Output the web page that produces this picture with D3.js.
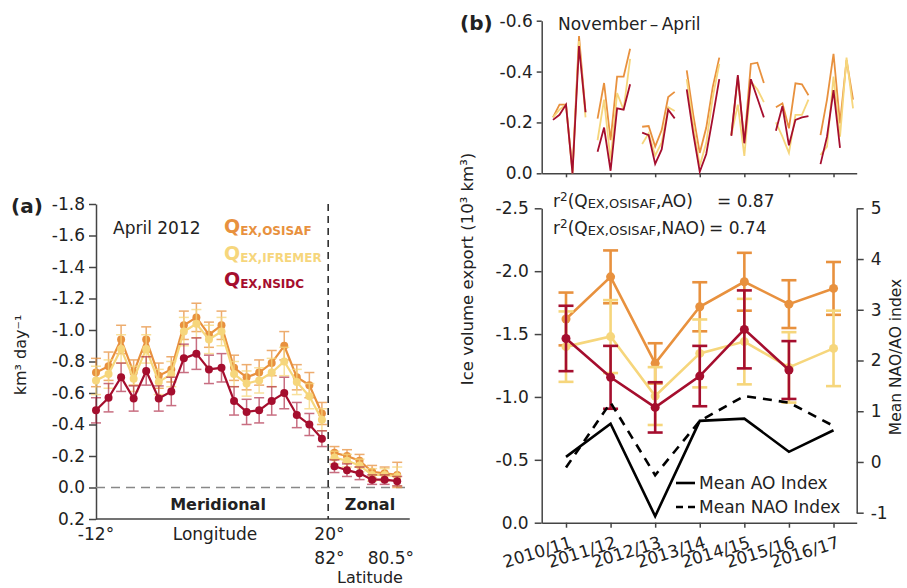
<!DOCTYPE html>
<html>
<head>
<meta charset="utf-8">
<script src="https://cdn.jsdelivr.net/npm/d3@7"></script>
<style>
  body { margin: 0; background: #fff; }
  svg text { font-family: "DejaVu Sans", sans-serif; fill: #222; }
</style>
</head>
<body>
<svg id="chart" width="907" height="588"></svg>
<script>
// ---------- panel (a): April 2012, along the flux gate ----------
// 19 meridional bins (-12° .. 20°) followed by 6 zonal bins (82° .. 80.5°)
var nMeridional = 19;
var osisafA   = [-0.73, -0.77, -0.94, -0.73, -0.94, -0.71, -0.75, -1.03, -1.08, -0.97, -1.03, -0.76, -0.70, -0.73, -0.79, -0.90, -0.70, -0.65, -0.47,
                 -0.22, -0.20, -0.17, -0.10, -0.09, -0.08];
var ifremerA  = [-0.68, -0.72, -0.88, -0.69, -0.88, -0.67, -0.72, -0.99, -1.04, -0.94, -0.99, -0.72, -0.66, -0.68, -0.73, -0.80, -0.67, -0.58, -0.43,
                 -0.19, -0.17, -0.14, -0.08, -0.08, -0.07];
var nsidcA    = [-0.49, -0.57, -0.70, -0.565, -0.74, -0.565, -0.61, -0.82, -0.85, -0.75, -0.76, -0.55, -0.48, -0.49, -0.55, -0.60, -0.46, -0.40, -0.31,
                 -0.135, -0.11, -0.09, -0.05, -0.05, -0.04];
var osisafErrA  = [0.09, 0.09, 0.09, 0.08, 0.08, 0.08, 0.08, 0.09, 0.09, 0.08, 0.09, 0.08, 0.08, 0.08, 0.08, 0.09, 0.08, 0.08, 0.07, 0.04, 0.04, 0.04, 0.04, 0.04, 0.08];
var ifremerErrA = [0.09, 0.09, 0.09, 0.08, 0.09, 0.08, 0.08, 0.09, 0.09, 0.09, 0.09, 0.08, 0.08, 0.08, 0.09, 0.09, 0.08, 0.08, 0.07, 0.04, 0.04, 0.04, 0.04, 0.04, 0.06];
var nsidcErrA   = [0.08, 0.09, 0.09, 0.08, 0.09, 0.08, 0.09, 0.09, 0.10, 0.09, 0.09, 0.09, 0.08, 0.08, 0.09, 0.10, 0.08, 0.07, 0.05, 0.04, 0.04, 0.04, 0.03, 0.03, 0.03];
var yTicksA = [-1.8, -1.6, -1.4, -1.2, -1.0, -0.8, -0.6, -0.4, -0.2, 0.0, 0.2];
var lonTickPos = [0, 18.6],  lonTickLabels = ["-12°", "20°"];
var latTickPos = [18.6, 23.5], latTickLabels = ["82°", "80.5°"];

// ---------- panel (b): November - April, 2010/11 .. 2016/17 ----------
var seasons = ["2010/11", "2011/12", "2012/13", "2013/14", "2014/15", "2015/16", "2016/17"];
var months  = ["Nov", "Dec", "Jan", "Feb", "Mar", "Apr"];
var osisafMonthly = [
  [-0.22, -0.27, -0.27, -0.01, -0.54, -0.24],
  [-0.215, -0.355, -0.13, -0.38, -0.38, -0.49],
  [-0.183, -0.186, -0.105, -0.17, -0.30, -0.32],
  [-0.405, -0.23, -0.08, -0.18, -0.34, -0.455],
  [-0.15, -0.38, -0.12, -0.43, -0.435, -0.355],
  [-0.26, -0.275, -0.177, -0.354, -0.35, -0.307],
  [-0.15, -0.29, -0.47, -0.196, -0.445, -0.29]];
var ifremerMonthly = [
  [-0.22, -0.25, -0.27, 0.0, -0.52, -0.22],
  [-0.13, -0.29, -0.05, -0.315, -0.25, -0.45],
  [-0.115, -0.157, -0.07, -0.12, -0.26, -0.245],
  [-0.37, -0.19, -0.03, -0.12, -0.30, -0.43],
  [-0.15, -0.27, -0.068, -0.36, -0.33, -0.28],
  [-0.20, -0.144, -0.08, -0.23, -0.23, -0.29],
  [-0.072, -0.105, -0.38, -0.144, -0.455, -0.255]];
var nsidcMonthly = [
  [-0.21, -0.23, -0.27, 0.0, -0.50, -0.24],
  [-0.085, -0.18, -0.01, -0.255, -0.25, -0.35],
  [-0.16, -0.15, -0.037, -0.094, -0.25, -0.216],
  [-0.33, -0.157, -0.006, -0.076, -0.22, -0.37],
  [-0.147, -0.386, -0.118, -0.37, -0.295, -0.22],
  [-0.167, -0.264, -0.11, -0.21, -0.22, -0.225],
  [-0.036, -0.144, -0.327, -0.10, null, null]];
var osisafSeason   = [-1.62, -1.955, -1.267, -1.717, -1.916, -1.738, -1.863];
var osisafErrS     = [0.21, 0.21, 0.16, 0.195, 0.23, 0.19, 0.21];
var ifremerSeason  = [-1.40, -1.48, -1.007, -1.346, -1.44, -1.235, -1.386];
var ifremerErrS    = [0.28, 0.29, 0.23, 0.27, 0.34, 0.28, 0.30];
var nsidcSeason    = [-1.465, -1.156, -0.917, -1.166, -1.537, -1.214, null];
var nsidcErrS      = [0.26, 0.25, 0.20, 0.24, 0.31, 0.23, null];
var aoIndex  = [0.10, 0.755, -1.07, 0.81, 0.855, 0.20, 0.625];
var naoIndex = [-0.11, 1.17, -0.26, 0.81, 1.30, 1.17, 0.71];
var yTicksMonthly = [-0.6, -0.4, -0.2, 0.0];
var yTicksSeason  = [-2.5, -2.0, -1.5, -1.0, -0.5, 0.0];
var yTicksIndex   = [-1, 0, 1, 2, 3, 4, 5];

var COL = { osisaf: "#e8913e", ifremer: "#f6d67c", nsidc: "#a50e2e", axis: "#444" };

var svg = d3.select("#chart");

function styleAxis(g, fontSize) {
    g.selectAll("path.domain").attr("stroke", COL.axis).attr("stroke-width", 1.5);
    g.selectAll(".tick line").attr("stroke", COL.axis).attr("stroke-width", 1.5);
    g.selectAll(".tick text").attr("font-size", fontSize).attr("fill", "#222")
        .attr("font-family", "DejaVu Sans, sans-serif");
}

function fmt1(d) { return d.toFixed(1); }

// ================= panel (a) =================
var xA = d3.scaleLinear().domain([0, 25]).range([96, 409.75]);
var yA = d3.scaleLinear().domain([-1.8, 0.2]).range([204, 519]);
var gA = svg.append("g");

gA.append("g").attr("transform", "translate(96,0)")
    .call(d3.axisLeft(yA).tickValues(yTicksA).tickFormat(fmt1).tickSize(7).tickSizeOuter(0).tickPadding(4))
    .call(function (g) { styleAxis(g, 17); });

gA.append("line").attr("x1", xA(0)).attr("x2", xA(25)).attr("y1", yA(0.2)).attr("y2", yA(0.2))
    .attr("stroke", COL.axis).attr("stroke-width", 1.5);

gA.append("line").attr("x1", xA(0)).attr("x2", xA(25)).attr("y1", yA(0)).attr("y2", yA(0))
    .attr("stroke", "#888").attr("stroke-width", 1.5).attr("stroke-dasharray", "9,6");

gA.append("line").attr("x1", xA(18.5)).attr("x2", xA(18.5)).attr("y1", yA(-1.8)).attr("y2", yA(0.2))
    .attr("stroke", "#222").attr("stroke-width", 1.5).attr("stroke-dasharray", "7,5");

function drawSeriesA(values, errs, color, errOpacity) {
    var pts = values.map(function (v, i) { return { i: i, v: v, e: errs[i] }; });
    var g = gA.append("g");
    var eb = g.append("g").attr("stroke", color).attr("stroke-width", 1.5).attr("opacity", errOpacity)
        .selectAll("g").data(pts).enter().append("g");
    eb.append("line").attr("x1", function (d) { return xA(d.i); }).attr("x2", function (d) { return xA(d.i); })
        .attr("y1", function (d) { return yA(d.v - d.e); }).attr("y2", function (d) { return yA(d.v + d.e); });
    eb.append("line").attr("x1", function (d) { return xA(d.i) - 5; }).attr("x2", function (d) { return xA(d.i) + 5; })
        .attr("y1", function (d) { return yA(d.v - d.e); }).attr("y2", function (d) { return yA(d.v - d.e); });
    eb.append("line").attr("x1", function (d) { return xA(d.i) - 5; }).attr("x2", function (d) { return xA(d.i) + 5; })
        .attr("y1", function (d) { return yA(d.v + d.e); }).attr("y2", function (d) { return yA(d.v + d.e); });

    var line = d3.line().x(function (d) { return xA(d.i); }).y(function (d) { return yA(d.v); });
    [pts.slice(0, nMeridional), pts.slice(nMeridional)].forEach(function (seg) {
        g.append("path").attr("d", line(seg)).attr("fill", "none").attr("stroke", color).attr("stroke-width", 2.2);
    });
    g.selectAll("circle").data(pts).enter().append("circle")
        .attr("cx", function (d) { return xA(d.i); }).attr("cy", function (d) { return yA(d.v); })
        .attr("r", 4).attr("fill", color);
}
drawSeriesA(osisafA, osisafErrA, COL.osisaf, 0.75);
drawSeriesA(ifremerA, ifremerErrA, COL.ifremer, 0.75);
drawSeriesA(nsidcA, nsidcErrA, COL.nsidc, 0.6);

gA.selectAll("text.lon").data(lonTickPos).enter().append("text")
    .attr("x", function (d) { return xA(d); }).attr("y", 540).attr("text-anchor", "middle")
    .attr("font-size", 17).text(function (d, i) { return lonTickLabels[i]; });
gA.selectAll("text.lat").data(latTickPos).enter().append("text")
    .attr("x", function (d) { return xA(d); }).attr("y", 564).attr("text-anchor", "middle")
    .attr("font-size", 17).text(function (d, i) { return latTickLabels[i]; });
gA.append("text").attr("x", 215).attr("y", 540).attr("text-anchor", "middle").attr("font-size", 17).text("Longitude");
gA.append("text").attr("x", 370).attr("y", 583).attr("text-anchor", "middle").attr("font-size", 16).text("Latitude");
gA.append("text").attr("x", 218).attr("y", 510).attr("text-anchor", "middle").attr("font-size", 16)
    .attr("font-weight", "bold").text("Meridional");
gA.append("text").attr("x", 370).attr("y", 510).attr("text-anchor", "middle").attr("font-size", 16)
    .attr("font-weight", "bold").text("Zonal");

gA.append("text").attr("x", 11).attr("y", 213).attr("font-size", 20).attr("font-weight", "bold").text("(a)");
gA.append("text").attr("x", 113).attr("y", 234).attr("font-size", 17).text("April 2012");
gA.append("text").attr("transform", "translate(26,355) rotate(-90)").attr("text-anchor", "middle")
    .attr("font-size", 16).text("km³ day⁻¹");

var legendA = [["OSISAF", COL.osisaf], ["IFREMER", COL.ifremer], ["NSIDC", COL.nsidc]];
legendA.forEach(function (d, i) {
    var t = gA.append("text").attr("x", 224).attr("y", 233 + i * 26.7).attr("font-weight", "bold")
        .style("fill", d[1]);
    t.append("tspan").attr("font-size", 19).text("Q");
    t.append("tspan").attr("font-size", 12).attr("dy", 2).text("EX," + d[0]);
});

// ================= panel (b) =================
var xB = d3.scaleLinear().domain([-0.545, 6.52]).range([541.7, 856.7]);
var monthStep = 0.146;
var yM = d3.scaleLinear().domain([-0.6, 0]).range([20.7, 173.3]);
var yS = d3.scaleLinear().domain([-2.5, 0]).range([208.3, 522.7]);
var yI = d3.scaleLinear().domain([5, -1]).range([208.3, 512.7]);
var gB = svg.append("g");
var seasonIdx = seasons.map(function (s, i) { return i; });

// top: monthly
gB.append("g").attr("transform", "translate(541.7,0)")
    .call(d3.axisLeft(yM).tickValues(yTicksMonthly).tickFormat(fmt1).tickSize(5).tickSizeOuter(0).tickPadding(4))
    .call(function (g) { styleAxis(g, 17); });
gB.append("g").attr("transform", "translate(0,173.3)")
    .call(d3.axisBottom(xB).tickValues(seasonIdx).tickFormat("").tickSize(4).tickSizeOuter(0))
    .call(function (g) { styleAxis(g, 17); });

function drawMonthly(data, color) {
    var line = d3.line().defined(function (d) { return d.v !== null; })
        .x(function (d) { return xB(d.s + (d.m - 2) * monthStep); }).y(function (d) { return yM(d.v); });
    data.forEach(function (row, s) {
        var pts = row.map(function (v, m) { return { s: s, m: m, v: v }; });
        gB.append("path").attr("d", line(pts)).attr("fill", "none").attr("stroke", color).attr("stroke-width", 1.8);
    });
}
drawMonthly(osisafMonthly, COL.osisaf);
drawMonthly(ifremerMonthly, COL.ifremer);
drawMonthly(nsidcMonthly, COL.nsidc);

gB.append("text").attr("x", 460).attr("y", 30).attr("font-size", 20).attr("font-weight", "bold").text("(b)");
gB.append("text").attr("x", 558).attr("y", 30).attr("font-size", 17).text("November\u2009\u2013\u2009April");

// bottom: seasonal
gB.append("g").attr("transform", "translate(541.7,0)")
    .call(d3.axisLeft(yS).tickValues(yTicksSeason).tickFormat(fmt1).tickSize(7).tickSizeOuter(0).tickPadding(6))
    .call(function (g) { styleAxis(g, 17); });
gB.append("g").attr("transform", "translate(856.7,0)")
    .call(d3.axisRight(yI).tickValues(yTicksIndex).tickFormat(function (d) { return String(d); })
        .tickSize(7).tickSizeOuter(0).tickPadding(7))
    .call(function (g) { styleAxis(g, 17); });
var xAxisB = gB.append("g").attr("transform", "translate(0,522.7)")
    .call(d3.axisBottom(xB).tickValues(seasonIdx).tickFormat(function (d) { return seasons[d]; })
        .tickSize(5).tickSizeOuter(0))
    .call(function (g) { styleAxis(g, 17); });
xAxisB.selectAll(".tick text").attr("text-anchor", "end").attr("dy", null)
    .attr("transform", "translate(4,17) rotate(-17)");

function drawSeason(vals, errs, color) {
    var pts = vals.map(function (v, i) { return { i: i, v: v, e: errs[i] }; })
        .filter(function (d) { return d.v !== null; });
    var g = gB.append("g");
    var eb = g.append("g").attr("stroke", color).attr("stroke-width", 2.6)
        .selectAll("g").data(pts).enter().append("g");
    eb.append("line").attr("x1", function (d) { return xB(d.i); }).attr("x2", function (d) { return xB(d.i); })
        .attr("y1", function (d) { return yS(d.v - d.e); }).attr("y2", function (d) { return yS(d.v + d.e); });
    [-1, 1].forEach(function (sgn) {
        eb.append("line").attr("x1", function (d) { return xB(d.i) - 7.5; }).attr("x2", function (d) { return xB(d.i) + 7.5; })
            .attr("y1", function (d) { return yS(d.v + sgn * d.e); }).attr("y2", function (d) { return yS(d.v + sgn * d.e); });
    });
    var line = d3.line().x(function (d) { return xB(d.i); }).y(function (d) { return yS(d.v); });
    g.append("path").attr("d", line(pts)).attr("fill", "none").attr("stroke", color).attr("stroke-width", 2.6);
    g.selectAll("circle").data(pts).enter().append("circle")
        .attr("cx", function (d) { return xB(d.i); }).attr("cy", function (d) { return yS(d.v); })
        .attr("r", 4.5).attr("fill", color);
}
drawSeason(osisafSeason, osisafErrS, COL.osisaf);
drawSeason(ifremerSeason, ifremerErrS, COL.ifremer);
drawSeason(nsidcSeason, nsidcErrS, COL.nsidc);

var idxLine = d3.line().x(function (d, i) { return xB(i); }).y(function (d) { return yI(d); });
gB.append("path").attr("d", idxLine(aoIndex)).attr("fill", "none").attr("stroke", "#000").attr("stroke-width", 2.6);
gB.append("path").attr("d", idxLine(naoIndex)).attr("fill", "none").attr("stroke", "#000").attr("stroke-width", 2.6)
    .attr("stroke-dasharray", "9,7");

// legend for the indices
gB.append("line").attr("x1", 676).attr("x2", 695).attr("y1", 483).attr("y2", 483).attr("stroke", "#000").attr("stroke-width", 2.6);
gB.append("line").attr("x1", 676).attr("x2", 695).attr("y1", 507).attr("y2", 507).attr("stroke", "#000").attr("stroke-width", 2.6)
    .attr("stroke-dasharray", "7,5");
gB.append("text").attr("x", 699).attr("y", 489).attr("font-size", 17).text("Mean AO Index");
gB.append("text").attr("x", 699).attr("y", 513).attr("font-size", 17).text("Mean NAO Index");

// correlation annotation
function rText(y, idx, val, valX) {
    var t = gB.append("text").attr("x", 553).attr("y", y).attr("font-size", 17);
    t.append("tspan").text("r");
    t.append("tspan").attr("font-size", 12).attr("dy", -6).text("2");
    t.append("tspan").attr("dy", 6).text("(Q");
    t.append("tspan").attr("font-size", 13).attr("dy", 1).text("EX,OSISAF");
    t.append("tspan").attr("dy", -1).text("," + idx + ")");
    gB.append("text").attr("x", valX).attr("y", y).attr("font-size", 17).text("= " + val);
}
rText(207, "AO", "0.87", 717);
rText(234, "NAO", "0.74", 709);

gB.append("text").attr("transform", "translate(473,269) rotate(-90)").attr("text-anchor", "middle")
    .attr("font-size", 16.5).text("Ice volume export (10³ km³)");
gB.append("text").attr("transform", "translate(901,357) rotate(-90)").attr("text-anchor", "middle")
    .attr("font-size", 15.5).text("Mean NAO/AO index");
</script>
</body>
</html>
